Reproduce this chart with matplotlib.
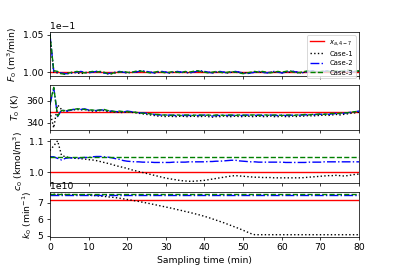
import numpy as np
import matplotlib
matplotlib.use("Agg")
import matplotlib.pyplot as plt

# sampling times (min)
t = np.arange(0, 81, 1)

# F0 in units of 1e-1 m3/min
f0_ref = 1.000
f0_case1 = [1.050, 1.000, 0.999, 0.998, 0.998, 0.999, 1.000, 0.999, 0.998, 0.999,
            1.000, 1.000, 1.001, 1.000, 0.999, 0.998, 0.998, 0.999, 1.000, 1.000,
            0.999, 1.000, 1.000, 1.001, 1.001, 1.000, 1.000, 0.999, 1.000, 1.000,
            1.000, 0.999, 1.000, 1.000, 1.000, 1.000, 0.999, 1.000, 1.001, 1.001,
            1.000, 1.000, 0.999, 1.000, 1.000, 1.000, 0.999, 1.000, 1.000, 1.000,
            0.999, 0.999, 0.999, 1.000, 1.000, 1.000, 0.999, 1.000, 1.000, 1.000,
            0.999, 1.000, 1.000, 1.001, 1.000, 0.999, 1.000, 1.000, 1.001, 1.001,
            1.000, 1.001, 1.001, 1.001, 1.000, 1.001, 1.001, 1.001, 1.000, 1.001, 1.001]
f0_case2 = [1.051, 1.001, 1.000, 0.999, 0.998, 0.998, 0.999, 1.000, 1.001, 1.000,
            0.999, 1.000, 1.001, 1.000, 0.999, 0.998, 0.999, 1.000, 1.001, 1.000,
            0.999, 1.000, 1.000, 1.001, 1.002, 1.001, 1.000, 0.999, 1.000, 1.001,
            1.000, 0.999, 1.000, 1.001, 1.000, 1.000, 0.999, 1.000, 1.001, 1.002,
            1.001, 1.000, 0.999, 1.000, 1.001, 1.000, 0.999, 1.000, 1.001, 1.000,
            0.999, 0.998, 0.999, 1.000, 1.001, 1.000, 0.999, 1.000, 1.001, 1.000,
            0.999, 1.000, 1.001, 1.001, 1.000, 0.999, 1.000, 1.001, 1.002, 1.001,
            1.000, 1.001, 1.002, 1.001, 1.000, 1.001, 1.002, 1.001, 1.000, 1.001, 1.001]
f0_case3 = [1.051, 1.002, 1.001, 0.998, 0.997, 0.999, 1.000, 1.001, 1.000, 0.999,
            1.000, 1.001, 1.000, 1.001, 1.000, 0.998, 0.998, 1.000, 1.000, 1.001,
            1.000, 0.999, 1.001, 1.002, 1.001, 1.000, 0.999, 1.000, 1.001, 1.000,
            0.999, 1.000, 1.001, 1.000, 0.999, 1.001, 1.000, 1.001, 1.002, 1.001,
            1.000, 0.999, 1.000, 1.001, 1.000, 0.999, 1.000, 1.001, 1.000, 0.999,
            0.998, 0.999, 1.000, 1.001, 1.000, 1.001, 1.000, 0.999, 1.000, 1.001,
            1.000, 1.001, 1.002, 1.000, 0.999, 1.000, 1.001, 1.002, 1.001, 1.000,
            1.001, 1.002, 1.001, 1.000, 1.002, 1.001, 1.002, 1.003, 1.002, 1.001, 1.002]

# T0 (K)
t0_ref = 350.0
t0_case1 = [350.0, 335.3, 356.0, 352.0, 350.0, 351.0, 351.5, 352.0, 351.5, 352.0,
            351.0, 350.5, 350.5, 351.0, 351.0, 350.0, 350.0, 349.5, 349.5, 349.0,
            350.0, 349.5, 349.0, 348.5, 348.0, 347.5, 347.0, 346.5, 346.0, 346.0,
            345.5, 346.0, 345.5, 345.5, 346.0, 345.5, 345.5, 346.0, 345.5, 345.5,
            346.0, 345.5, 345.0, 345.5, 345.5, 346.0, 345.5, 345.5, 346.0, 345.5,
            345.5, 346.0, 345.5, 345.5, 346.0, 345.5, 345.5, 346.0, 345.5, 345.5,
            346.0, 345.5, 345.5, 346.0, 345.5, 346.0, 346.0, 346.5, 346.0, 346.5,
            346.5, 347.0, 346.5, 347.0, 347.5, 347.0, 347.5, 348.0, 348.5, 349.0, 349.5]
t0_case2 = [356.0, 371.5, 345.5, 351.5, 350.5, 351.0, 352.0, 352.5, 352.0, 352.5,
            351.5, 351.0, 351.0, 351.5, 351.5, 350.5, 350.5, 350.0, 350.0, 349.5,
            350.5, 350.0, 349.5, 349.0, 349.0, 348.5, 348.0, 347.5, 347.0, 347.0,
            346.5, 347.0, 346.5, 346.5, 347.0, 346.5, 346.5, 347.0, 346.5, 346.5,
            347.0, 346.5, 346.0, 346.5, 346.5, 347.0, 346.5, 346.5, 347.0, 346.5,
            346.5, 347.0, 346.5, 346.5, 347.0, 346.5, 346.5, 347.0, 346.5, 346.5,
            347.0, 346.5, 346.5, 347.0, 346.5, 347.0, 347.0, 347.5, 347.0, 347.5,
            347.5, 348.0, 347.5, 348.0, 348.5, 348.0, 348.5, 349.0, 349.5, 350.0, 350.5]
t0_case3 = [357.0, 372.0, 346.0, 351.0, 351.0, 351.5, 352.0, 352.5, 352.5, 352.0,
            351.5, 351.5, 351.0, 351.5, 352.0, 351.0, 350.5, 350.0, 350.5, 350.0,
            350.0, 349.5, 349.5, 349.0, 348.5, 348.5, 348.0, 347.5, 347.5, 347.0,
            347.0, 346.5, 347.0, 347.0, 346.5, 347.0, 347.0, 346.5, 347.0, 347.0,
            346.5, 347.0, 346.5, 347.0, 347.0, 346.5, 347.0, 347.0, 346.5, 347.0,
            347.0, 346.5, 347.0, 347.0, 346.5, 347.0, 347.0, 346.5, 347.0, 347.0,
            346.5, 347.0, 347.0, 346.5, 347.0, 347.0, 347.5, 347.0, 347.5, 347.5,
            348.0, 347.5, 348.0, 348.5, 348.0, 348.5, 349.0, 349.0, 349.5, 350.0, 350.5]

# c0 (kmol/m3)
c0_ref = 1.0
c0_case1 = [1.070, 1.085, 1.101, 1.055, 1.050, 1.048, 1.046, 1.045, 1.044, 1.043,
            1.041, 1.040, 1.038, 1.035, 1.032, 1.029, 1.026, 1.022, 1.019, 1.016,
            1.013, 1.009, 1.006, 1.003, 1.000, 0.997, 0.994, 0.991, 0.988, 0.985,
            0.982, 0.980, 0.978, 0.976, 0.974, 0.973, 0.972, 0.972, 0.973, 0.974,
            0.975, 0.977, 0.979, 0.981, 0.983, 0.985, 0.987, 0.989, 0.990, 0.989,
            0.988, 0.987, 0.986, 0.985, 0.985, 0.984, 0.984, 0.984, 0.983, 0.983,
            0.983, 0.983, 0.983, 0.983, 0.983, 0.983, 0.984, 0.985, 0.986, 0.987,
            0.988, 0.989, 0.990, 0.990, 0.991, 0.990, 0.989, 0.990, 0.992, 0.994, 0.995]
c0_case2 = [1.050, 1.050, 1.045, 1.040, 1.045, 1.047, 1.046, 1.045, 1.047, 1.048,
            1.048, 1.050, 1.051, 1.051, 1.050, 1.049, 1.047, 1.044, 1.042, 1.038,
            1.036, 1.035, 1.034, 1.034, 1.033, 1.033, 1.033, 1.032, 1.032, 1.032,
            1.032, 1.032, 1.033, 1.033, 1.033, 1.033, 1.034, 1.034, 1.034, 1.034,
            1.034, 1.035, 1.035, 1.036, 1.036, 1.037, 1.038, 1.039, 1.039, 1.037,
            1.036, 1.035, 1.034, 1.034, 1.033, 1.033, 1.033, 1.033, 1.033, 1.033,
            1.033, 1.032, 1.032, 1.032, 1.032, 1.032, 1.032, 1.033, 1.033, 1.033,
            1.033, 1.034, 1.034, 1.034, 1.034, 1.034, 1.034, 1.034, 1.034, 1.034, 1.034]
c0_case3 = 1.05

# k0 in units of 1e10 1/min
k0_ref = 7.16
k0_case1 = [7.52, 7.52, 7.51, 7.51, 7.50, 7.50, 7.49, 7.49, 7.48, 7.47, 7.46,
            7.45, 7.43, 7.41, 7.39, 7.36, 7.34, 7.31, 7.28, 7.24, 7.20,
            7.16, 7.12, 7.08, 7.03, 6.99, 6.94, 6.89, 6.84, 6.79, 6.74,
            6.69, 6.64, 6.58, 6.53, 6.47, 6.42, 6.36, 6.30, 6.24, 6.17,
            6.10, 6.02, 5.94, 5.86, 5.78, 5.69, 5.60, 5.51, 5.42, 5.32,
            5.22, 5.12, 5.05] + [5.05] * 27
k0_case2 = 7.50
k0_case3 = 7.52

fig, axes = plt.subplots(4, 1, sharex=True, figsize=(6, 4), dpi=66.5)
ax1, ax2, ax3, ax4 = axes

def draw(ax, ref, c1, c2, c3, scale=1.0):
    n = len(t)
    ax.plot(t, np.full(n, ref) * scale, 'r-', lw=1.5, label='$x_{a,4-7}$')
    ax.plot(t, np.broadcast_to(c1, n) * scale, 'k:', lw=1.5, label='Case-1')
    ax.plot(t, np.broadcast_to(c2, n) * scale, 'b-.', lw=1.5, label='Case-2')
    ax.plot(t, np.broadcast_to(c3, n) * scale, 'g--', lw=1.5, label='Case-3')

draw(ax1, f0_ref, f0_case1, f0_case2, f0_case3, scale=0.1)
ax1.ticklabel_format(axis='y', style='sci', scilimits=(0, 0))
ax1.set_ylabel('$F_0$ (m$^3$/min)')
ax1.legend(loc='upper right', fontsize=7.5, framealpha=0.8)

draw(ax2, t0_ref, t0_case1, t0_case2, t0_case3)
ax2.set_ylabel('$T_0$ (K)')

draw(ax3, c0_ref, c0_case1, c0_case2, c0_case3)
ax3.set_ylabel('$c_0$ (kmol/m$^3$)')

draw(ax4, k0_ref, k0_case1, k0_case2, k0_case3, scale=1e10)
ax4.set_ylabel('$k_0$ (min$^{-1}$)')

ax4.set_xlim(0, 80)
ax4.set_xticks(range(0, 81, 10))
ax4.set_xlabel('Sampling time (min)')

plt.savefig('out.png', dpi=66.5)
